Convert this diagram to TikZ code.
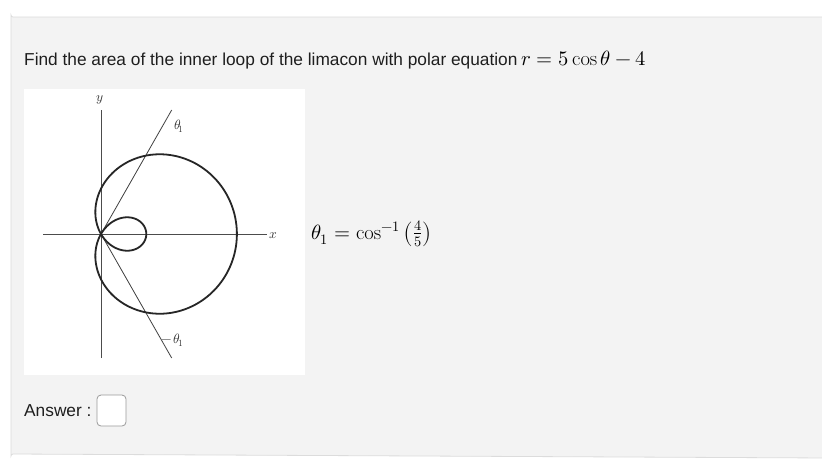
\documentclass[tikz,border=0pt]{standalone}
\usepackage{fontspec}
\usepackage{amsmath}
\usepackage{unicode-math}
\setmathfont{Latin Modern Math}
\newfontfamily\arial{Liberation Sans}
\definecolor{panelfill}{HTML}{F3F3F3}
\definecolor{panelline}{HTML}{DCDCDC}
\definecolor{boxline}{HTML}{9A9A9A}
\definecolor{ink}{HTML}{1E1E1E}
\tikzset{
  qtext/.style={anchor=base west, inner sep=0pt, font=\arial\fontsize{17.3}{20}\selectfont, text=ink},
  mtext/.style={anchor=base west, inner sep=0pt, font=\fontsize{20.6}{24}\selectfont, text=black},
  axis/.style={line width=0.9pt, draw=black!70},
  ray/.style={line width=0.8pt, draw=black!75},
  curve/.style={line width=1.8pt, draw=black!85},
  lbl/.style={inner sep=0pt, font=\fontsize{13.5}{15}\selectfont, text=black!80},
}
\begin{document}
\begin{tikzpicture}[x=1pt,y=-1pt]
\useasboundingbox (0,0) rectangle (822,472);
\fill[white] (0,0) rectangle (822,472);
\draw[panelline, fill=panelfill, line width=0.8pt] (830,17) -- (13,17) arc[start angle=90,end angle=180,radius=2] -- (11,456) arc[start angle=180,end angle=270,radius=2] -- (830,458);
\node[qtext] (q) at (24,65) {Find the area of the inner loop of the limacon with polar equation};
\node[mtext] (qm) at (q.base east) {\,\(r=5\cos\theta-4\)};
% graph image
\fill[white] (24,89) rectangle (305,375);
\coordinate (O) at (101,234);
\coordinate (xl) at (43,234);
\coordinate (xr) at (267,234);
\coordinate (yt) at (101,110);
\coordinate (yb) at (101,358);
\coordinate (t1) at (171.7,110);
\coordinate (t2) at (171.7,358);
\draw[axis] (xl) -- (xr);
\draw[axis] (yb) -- (yt);
\draw[ray] (O) -- (t1);
\draw[ray] (O) -- (t2);
\begin{scope}[shift={(101,234)}, x=45.3pt, y=45.3pt]
\draw[curve] plot[domain=0:360, samples=240, smooth] ({(2*cos(\x)-1)*cos(\x)},{(2*cos(\x)-1)*sin(\x)}) -- cycle;
\end{scope}
\node[lbl, anchor=west] (xlab) at (269,236) {\(x\)};
\node[lbl] (ylab) at (100,100) {\(y\)};
\node[lbl, anchor=west] (th1) at (174,126) {\(\theta_{\!1}\)};
\node[lbl, anchor=west] (th2) at (161,340) {\(-\,\theta_{\!1}\)};
\node[mtext] (def) at (311,239) {\(\theta_1=\cos^{-1}\left(\tfrac{4}{5}\right)\)};
\node[qtext] (ans) at (24,416) {Answer :};
\node[draw=boxline, fill=white, rounded corners=4pt, line width=0.8pt, minimum width=29pt, minimum height=31pt, inner sep=0pt] (box) at (111.5,410.5) {};
\end{tikzpicture}
\end{document}
